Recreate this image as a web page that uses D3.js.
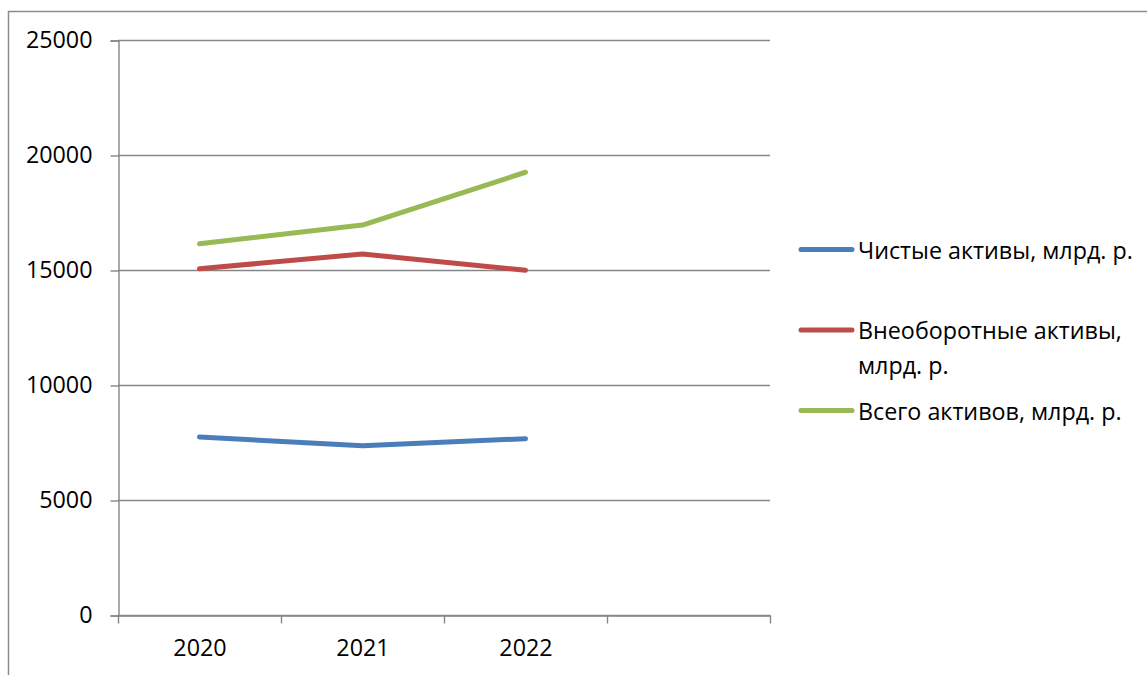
<!DOCTYPE html>
<html><head><meta charset="utf-8">
<script src="https://cdn.jsdelivr.net/npm/d3@7"></script>
<style>html,body{margin:0;padding:0;background:#fff;}svg{display:block;}</style>
</head><body>
<svg id="c" width="1147" height="675"></svg>
<script>
const categories = ["2020", "2021", "2022", ""];
const netAssets = [7740, 7360, 7665];
const nonCurrentAssets = [15055, 15695, 14990];
const totalAssets = [16145, 16955, 19250];
const yTicks = [0, 5000, 10000, 15000, 20000, 25000];
const seriesNames = ["Чистые активы, млрд. р.", ["Внеоборотные активы,", "млрд. р."], "Всего активов, млрд. р."];
const seriesColors = ["#4a7ebb", "#be4b48", "#98b954"];

const series = [netAssets, nonCurrentAssets, totalAssets];
const svg = d3.select("#c");
const font = "'Open Sans', sans-serif";
const fs = 23.3;
const grey = "#868686";

// outer frame
svg.append("rect").attr("x", 8.5).attr("y", 11.5).attr("width", 1200).attr("height", 700)
  .attr("fill", "none").attr("stroke", "#8c8c8c").attr("stroke-width", 1.5);

const x = d3.scaleBand().domain(categories).range([118, 770]);
const y = d3.scaleLinear().domain([0, 25000]).range([615, 40]);

// gridlines
svg.append("g").selectAll("line").data(yTicks).join("line")
  .attr("x1", 118).attr("x2", 770)
  .attr("y1", d => Math.round(y(d)) + 0.5).attr("y2", d => Math.round(y(d)) + 0.5)
  .attr("stroke", grey).attr("stroke-width", 1.4);

// y axis
const ya = svg.append("g").attr("transform", "translate(118.5,0.5)")
  .call(d3.axisLeft(y).tickValues(yTicks).tickSize(8).tickPadding(18).tickFormat(d3.format("d")));
ya.select(".domain").attr("stroke", grey).attr("stroke-width", 1.4);
ya.selectAll(".tick line").attr("stroke", grey).attr("stroke-width", 1.4);
ya.selectAll("text").attr("font-family", font).attr("font-size", fs).attr("fill", "#000");

// x axis
const xa = svg.append("g").attr("transform", "translate(0.5,615.5)")
  .call(d3.axisBottom(x).tickSize(0).tickPadding(24));
xa.select(".domain").attr("stroke", grey).attr("stroke-width", 1.4);
xa.selectAll("text").attr("font-family", font).attr("font-size", fs).attr("fill", "#000");
const bounds = categories.map(c => x(c)).concat([x.range()[1]]);
xa.selectAll(".bt").data(bounds).join("line").attr("class", "bt")
  .attr("x1", d => Math.round(d)).attr("x2", d => Math.round(d)).attr("y1", 0).attr("y2", 8)
  .attr("stroke", grey).attr("stroke-width", 1.4);

// lines
const line = d3.line().x((d, i) => x(categories[i]) + x.bandwidth() / 2).y(d => y(d));
series.forEach((s, i) => {
  svg.append("path").datum(s).attr("d", line).attr("fill", "none")
    .attr("stroke", seriesColors[i]).attr("stroke-width", 5)
    .attr("stroke-linecap", "round").attr("stroke-linejoin", "round");
});

// legend
const legY = [249.5, 330, 410.5];
series.forEach((s, i) => {
  const g = svg.append("g");
  g.append("line").attr("x1", 801).attr("x2", 852).attr("y1", legY[i]).attr("y2", legY[i])
    .attr("stroke", seriesColors[i]).attr("stroke-width", 5).attr("stroke-linecap", "round");
  const lines = Array.isArray(seriesNames[i]) ? seriesNames[i] : [seriesNames[i]];
  const t = g.append("text").attr("x", 858).attr("y", legY[i]).attr("font-family", font)
    .attr("font-size", fs).attr("fill", "#000").attr("dominant-baseline", "central");
  lines.forEach((l, k) => t.append("tspan").attr("x", 858).attr("dy", k === 0 ? 0 : 35).text(l));
});
</script>
</body></html>
